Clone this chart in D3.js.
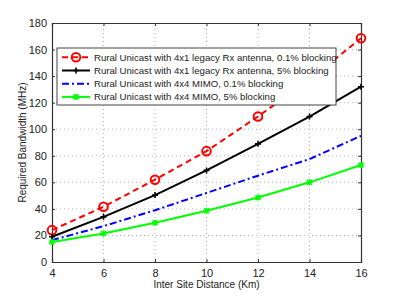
<html>
  <script src="https://cdnjs.cloudflare.com/ajax/libs/d3/7.8.5/d3.min.js"></script>
  <style>
    html, body {
      width: 100%;
      height: 100%;
      padding: 0px;
      margin: 0px;
      background: #fff;
    }
    text { font-family: "Liberation Sans", Arial, sans-serif; fill: #222; }
  </style>
  <body>
    <div id="graph"></div>
    <script>
      // data
      var distances = [4, 6, 8, 10, 12, 14, 16];
      var legacy01 = [24, 41.6, 62, 83.5, 109.6, 137.5, 168.5];
      var legacy5 = [19, 34, 50.4, 69, 89, 109.5, 132];
      var mimo01 = [16.5, 27, 39, 52, 65, 77.5, 95];
      var mimo5 = [15, 21.5, 29.5, 38.6, 48.6, 60, 73];
      var xTicks = [4, 6, 8, 10, 12, 14, 16];
      var yTicks = [0, 20, 40, 60, 80, 100, 120, 140, 160, 180];
      var seriesNames = [
        "Rural Unicast with 4x1 legacy Rx antenna, 0.1% blocking",
        "Rural Unicast with 4x1 legacy Rx antenna, 5% blocking",
        "Rural Unicast with 4x4 MIMO, 0.1% blocking",
        "Rural Unicast with 4x4 MIMO, 5% blocking"
      ];

      var series = [
        { name: seriesNames[0], values: legacy01, color: "#ff0000", dash: "6,4", marker: "circle" },
        { name: seriesNames[1], values: legacy5, color: "#000000", dash: null, marker: "plus" },
        { name: seriesNames[2], values: mimo01, color: "#0000ff", dash: "7,3,2,3", marker: null },
        { name: seriesNames[3], values: mimo5, color: "#00ff00", dash: null, marker: "star" }
      ];

      var width = 399, height = 295;
      var margin = { left: 52, right: 38, top: 23, bottom: 33 };

      var svg = d3.select("#graph").append("svg")
        .attr("width", width).attr("height", height);

      var x = d3.scaleLinear().domain([4, 16]).range([margin.left, width - margin.right]);
      var y = d3.scaleLinear().domain([0, 180]).range([height - margin.bottom, margin.top]);

      // grid
      var grid = svg.append("g");
      grid.selectAll(".gx").data(xTicks.slice(1, -1)).enter().append("line")
        .attr("x1", d => x(d)).attr("x2", d => x(d))
        .attr("y1", y(0)).attr("y2", y(180))
        .attr("stroke", "#aaa").attr("stroke-width", 0.8).attr("stroke-dasharray", "1,3");
      grid.selectAll(".gy").data(yTicks.slice(1, -1)).enter().append("line")
        .attr("y1", d => y(d)).attr("y2", d => y(d))
        .attr("x1", x(4)).attr("x2", x(16))
        .attr("stroke", "#aaa").attr("stroke-width", 0.8).attr("stroke-dasharray", "1,3");

      // axes
      var xAxis = svg.append("g").attr("transform", "translate(0," + y(0) + ")")
        .call(d3.axisBottom(x).tickValues(xTicks).tickSize(-3).tickPadding(7));
      var yAxis = svg.append("g").attr("transform", "translate(" + x(4) + ",0)")
        .call(d3.axisLeft(y).tickValues(yTicks).tickSize(-3).tickPadding(5));
      var xAxisTop = svg.append("g").attr("transform", "translate(0," + y(180) + ")")
        .call(d3.axisTop(x).tickValues(xTicks).tickSize(-3).tickFormat(""));
      var yAxisRight = svg.append("g").attr("transform", "translate(" + x(16) + ",0)")
        .call(d3.axisRight(y).tickValues(yTicks).tickSize(-3).tickFormat(""));
      [xAxis, yAxis, xAxisTop, yAxisRight].forEach(function(a) {
        a.select(".domain").attr("stroke", "#333").attr("stroke-width", 1.2);
        a.selectAll(".tick line").attr("stroke", "#333");
        a.selectAll("text").style("font-size", "11px").attr("fill", "#222");
      });

      // lines
      var line = d3.line().x((d, i) => x(distances[i])).y(d => y(d));

      series.forEach(function(s) {
        svg.append("path").datum(s.values)
          .attr("d", line)
          .attr("fill", "none")
          .attr("stroke", s.color)
          .attr("stroke-width", 2)
          .attr("stroke-dasharray", s.dash);
        drawMarkers(svg, s, s.values.map((v, i) => [x(distances[i]), y(v)]));
      });

      function drawMarkers(g, s, pts) {
        pts.forEach(function(p) { drawMarker(g, s, p[0], p[1]); });
      }

      function drawMarker(g, s, px, py) {
        if (s.marker == "circle") {
          g.append("circle").attr("cx", px).attr("cy", py).attr("r", 4.3)
            .attr("fill", "none").attr("stroke", s.color).attr("stroke-width", 2);
        } else if (s.marker == "plus") {
          g.append("path").attr("d", "M" + (px - 3) + "," + py + "H" + (px + 3) + "M" + px + "," + (py - 3) + "V" + (py + 3))
            .attr("stroke", s.color).attr("stroke-width", 1.6);
        } else if (s.marker == "star") {
          g.append("path").attr("d", "M" + (px - 3) + "," + py + "H" + (px + 3) + "M" + px + "," + (py - 3) + "V" + (py + 3) +
              "M" + (px - 2.5) + "," + (py - 2.5) + "L" + (px + 2.5) + "," + (py + 2.5) +
              "M" + (px - 2.5) + "," + (py + 2.5) + "L" + (px + 2.5) + "," + (py - 2.5))
            .attr("stroke", s.color).attr("stroke-width", 1.5);
        }
      }

      // axis labels
      svg.append("text")
        .attr("x", (x(4) + x(16)) / 2).attr("y", height - 7)
        .attr("text-anchor", "middle").style("font-size", "10px")
        .text("Inter Site Distance (Km)");
      svg.append("text")
        .attr("transform", "translate(26," + (y(90)) + ") rotate(-90)")
        .attr("text-anchor", "middle").style("font-size", "10px")
        .text("Required Bandwidth (MHz)");

      // legend
      var legend = svg.append("g");
      legend.append("rect")
        .attr("x", 57).attr("y", 48).attr("width", 279).attr("height", 57)
        .attr("fill", "#fff").attr("stroke", "#444").attr("stroke-width", 1);
      series.forEach(function(s, i) {
        var ly = 57.3 + i * 13.2;
        legend.append("line")
          .attr("x1", 62).attr("x2", 90).attr("y1", ly).attr("y2", ly)
          .attr("stroke", s.color).attr("stroke-width", 2)
          .attr("stroke-dasharray", s.dash);
        drawMarker(legend, s, 76, ly);
        legend.append("text")
          .attr("x", 94).attr("y", ly + 3.5)
          .style("font-size", "9.6px")
          .text(s.name);
      });
    </script>
  </body>
</html>
